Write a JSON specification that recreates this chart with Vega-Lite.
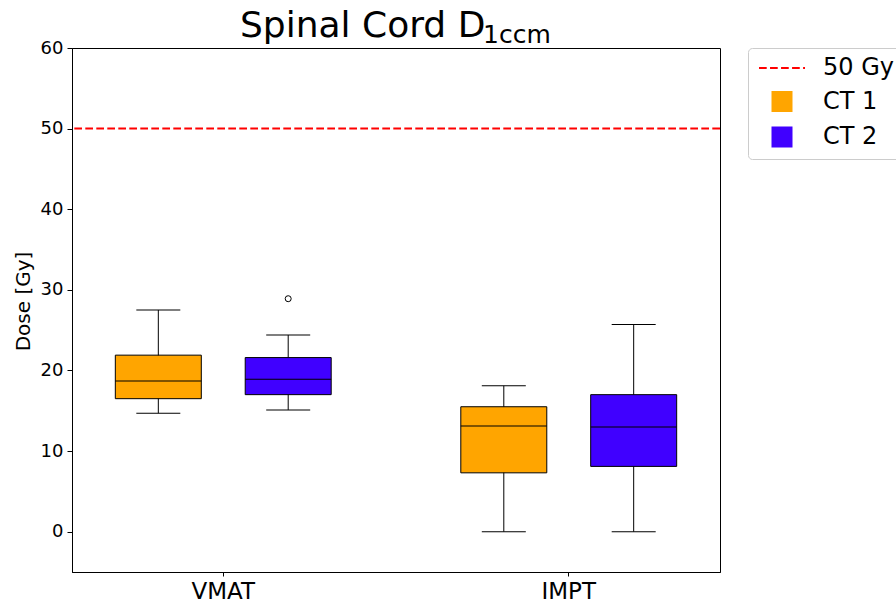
{
  "$schema": "https://vega.github.io/schema/vega-lite/v6.json",
  "width": 648,
  "height": 524,
  "autosize": {"type": "none"},
  "padding": {"left": 72, "top": 48, "right": 176, "bottom": 31},
  "background": "white",
  "config": {
    "font": "DejaVu Sans",
    "view": {"stroke": "black", "strokeWidth": 1}
  },
  "title": {
    "text": "Spinal Cord D",
    "subtitle": "\u2800\u2800\u2800\u2800\u2800\u2800\u2800\u2800\u2800\u2800\u2800\u2800\u2800\u20091ccm",
    "anchor": "start",
    "frame": "group",
    "dx": 168,
    "fontSize": 36,
    "fontWeight": "normal",
    "color": "black",
    "subtitleFontSize": 25,
    "subtitleColor": "black",
    "subtitlePadding": -22,
    "offset": -10
  },
  "datasets": {
    "stats": [
      {"plan": "VMAT", "ct": "CT 1", "lower": 14.7, "q1": 16.5, "median": 18.7, "q3": 21.9, "upper": 27.5},
      {"plan": "VMAT", "ct": "CT 2", "lower": 15.1, "q1": 17.0, "median": 18.9, "q3": 21.6, "upper": 24.4},
      {"plan": "IMPT", "ct": "CT 1", "lower": 0.0, "q1": 7.3, "median": 13.1, "q3": 15.5, "upper": 18.1},
      {"plan": "IMPT", "ct": "CT 2", "lower": 0.0, "q1": 8.1, "median": 13.0, "q3": 17.0, "upper": 25.7}
    ],
    "outliers": [
      {"plan": "VMAT", "ct": "CT 2", "dose": 28.9}
    ],
    "ref": [
      {"dose": 50, "label": "50 Gy"}
    ]
  },
  "encoding": {
    "x": {
      "field": "plan",
      "type": "nominal",
      "sort": ["VMAT", "IMPT"],
      "scale": {"domain": ["VMAT", "IMPT"], "paddingInner": 0.2, "paddingOuter": 0.0378},
      "axis": {
        "title": null,
        "labelAngle": 0,
        "labelFontSize": 23,
        "labelColor": "black",
        "labelPadding": 4,
        "tickSize": 4,
        "tickColor": "black",
        "domainColor": "black"
      }
    }
  },
  "layer": [
    {
      "data": {"name": "stats"},
      "mark": {"type": "point", "filled": true, "opacity": 0, "size": 361, "strokeWidth": 2},
      "encoding": {
        "xOffset": {"field": "ct", "type": "nominal", "scale": {"domain": ["CT 1", "CT 2"], "paddingInner": 0.338, "paddingOuter": 0.233}},
        "y": {
          "field": "median",
          "type": "quantitative",
          "scale": {"domain": [-5, 60], "nice": false, "zero": false},
          "axis": {
            "title": "Dose [Gy]",
            "titleFontSize": 20,
            "titleFontWeight": "normal",
            "titleColor": "black",
            "titlePadding": 7,
            "titleY": 253,
            "values": [0, 10, 20, 30, 40, 50, 60],
            "labelFontSize": 18,
            "labelColor": "black",
            "labelPadding": 4,
            "tickSize": 5,
            "tickColor": "black",
            "domainColor": "black",
            "grid": false
          }
        },
        "color": {
          "field": "ct",
          "type": "nominal",
          "scale": {"domain": ["50 Gy", "CT 1", "CT 2"], "range": ["#ff0000", "#ffa500", "#4000ff"]},
          "legend": {
            "title": null,
            "orient": "right",
            "offset": 28,
            "padding": 8,
            "labelFontSize": 24,
            "labelColor": "black",
            "labelLimit": 300,
            "labelOffset": 29,
            "symbolSize": 361,
            "symbolOffset": 14,
            "symbolOpacity": 1,
            "symbolStrokeWidth": 2,
            "rowPadding": 7.5,
            "strokeColor": "#cccccc",
            "fillColor": "white",
            "cornerRadius": 4
          }
        },
        "shape": {
          "field": "ct",
          "type": "nominal",
          "scale": {
            "domain": ["50 Gy", "CT 1", "CT 2"],
            "range": ["M-2.42,0H-1.61M-1.26,0H-0.45M-0.1,0H0.71M1.06,0H1.87M2.22,0H2.42", "square", "square"]
          },
          "legend": {"title": null, "symbolOpacity": 1}
        },
        "stroke": {
          "field": "ct",
          "type": "nominal",
          "scale": {
            "domain": ["50 Gy", "CT 1", "CT 2"],
            "range": ["#ff0000", "transparent", "transparent"]
          },
          "legend": {"title": null, "symbolOpacity": 1}
        }
      }
    },
    {
      "data": {"name": "stats"},
      "mark": {"type": "rule", "color": "black", "strokeWidth": 1},
      "encoding": {
        "xOffset": {"field": "ct", "type": "nominal"},
        "y": {"field": "lower", "type": "quantitative"},
        "y2": {"field": "upper"}
      }
    },
    {
      "data": {"name": "stats"},
      "mark": {"type": "tick", "orient": "horizontal", "color": "black", "size": 44, "thickness": 1, "opacity": 1},
      "encoding": {
        "xOffset": {"field": "ct", "type": "nominal"},
        "y": {"field": "lower", "type": "quantitative"}
      }
    },
    {
      "data": {"name": "stats"},
      "mark": {"type": "tick", "orient": "horizontal", "color": "black", "size": 44, "thickness": 1, "opacity": 1},
      "encoding": {
        "xOffset": {"field": "ct", "type": "nominal"},
        "y": {"field": "upper", "type": "quantitative"}
      }
    },
    {
      "data": {"name": "stats"},
      "mark": {"type": "bar", "stroke": "black", "strokeWidth": 1, "opacity": 1},
      "encoding": {
        "xOffset": {"field": "ct", "type": "nominal"},
        "y": {"field": "q1", "type": "quantitative"},
        "y2": {"field": "q3"},
        "color": {"field": "ct", "type": "nominal", "legend": null}
      }
    },
    {
      "data": {"name": "stats"},
      "mark": {"type": "tick", "orient": "horizontal", "color": "black", "thickness": 1, "size": 86, "opacity": 1},
      "encoding": {
        "xOffset": {"field": "ct", "type": "nominal"},
        "y": {"field": "median", "type": "quantitative"}
      }
    },
    {
      "data": {"name": "outliers"},
      "mark": {"type": "point", "shape": "circle", "filled": false, "stroke": "black", "strokeWidth": 1, "size": 36, "opacity": 1},
      "encoding": {
        "xOffset": {"field": "ct", "type": "nominal"},
        "y": {"field": "dose", "type": "quantitative"}
      }
    },
    {
      "data": {"name": "ref"},
      "mark": {"type": "rule", "strokeWidth": 2, "strokeDash": [7.7, 3.3]},
      "encoding": {
        "x": null,
        "y": {"field": "dose", "type": "quantitative"},
        "color": {"field": "label", "type": "nominal", "legend": null}
      }
    }
  ]
}
